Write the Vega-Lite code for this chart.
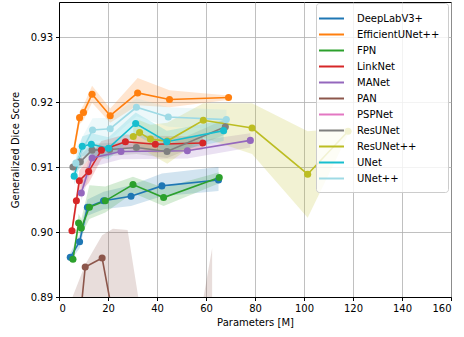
{
 "$schema": "https://vega.github.io/schema/vega-lite/v6.json",
 "width": 392, "height": 295,
 "autosize": {"type": "none"},
 "padding": {"left": 59, "top": 2, "right": 13, "bottom": 40},
 "config": {
  "font": "DejaVu Sans",
  "view": {"stroke": "black", "strokeWidth": 1},
  "axis": {"domainColor": "black", "tickColor": "black", "labelColor": "black", "titleColor": "black", "gridColor": "#b0b0b0", "gridWidth": 0.8, "labelFontSize": 10, "titleFontSize": 10, "titleFontWeight": "normal", "tickSize": 3.5, "labelPadding": 3, "domainWidth": 1}
 },
 "data": {"values": [
  {"model": "DeepLabV3+", "params": 4.6, "score": 0.8961, "lo": 0.8955, "hi": 0.8968},
  {"model": "DeepLabV3+", "params": 8.4, "score": 0.8985, "lo": 0.8975, "hi": 0.8996},
  {"model": "DeepLabV3+", "params": 11.6, "score": 0.9038, "lo": 0.9025, "hi": 0.905},
  {"model": "DeepLabV3+", "params": 18.2, "score": 0.9048, "lo": 0.9035, "hi": 0.9062},
  {"model": "DeepLabV3+", "params": 29.4, "score": 0.9055, "lo": 0.904, "hi": 0.9072},
  {"model": "DeepLabV3+", "params": 42.0, "score": 0.9071, "lo": 0.9055, "hi": 0.909},
  {"model": "DeepLabV3+", "params": 65.1, "score": 0.908, "lo": 0.9063, "hi": 0.91},
  {"model": "EfficientUNet++", "params": 6.0, "score": 0.9125, "lo": 0.9117, "hi": 0.9133},
  {"model": "EfficientUNet++", "params": 8.4, "score": 0.9176, "lo": 0.9166, "hi": 0.9186},
  {"model": "EfficientUNet++", "params": 10.0, "score": 0.9184, "lo": 0.9172, "hi": 0.9195},
  {"model": "EfficientUNet++", "params": 13.5, "score": 0.9212, "lo": 0.9199, "hi": 0.9225},
  {"model": "EfficientUNet++", "params": 20.9, "score": 0.9179, "lo": 0.9168, "hi": 0.919},
  {"model": "EfficientUNet++", "params": 32.1, "score": 0.9214, "lo": 0.9195, "hi": 0.9237},
  {"model": "EfficientUNet++", "params": 45.1, "score": 0.9204, "lo": 0.9192, "hi": 0.9218},
  {"model": "EfficientUNet++", "params": 69.2, "score": 0.9207, "lo": 0.9203, "hi": 0.921},
  {"model": "FPN", "params": 5.7, "score": 0.8958, "lo": 0.895, "hi": 0.8966},
  {"model": "FPN", "params": 8.0, "score": 0.9014, "lo": 0.9, "hi": 0.9028},
  {"model": "FPN", "params": 9.1, "score": 0.9006, "lo": 0.8995, "hi": 0.902},
  {"model": "FPN", "params": 12.4, "score": 0.9038, "lo": 0.902, "hi": 0.9072},
  {"model": "FPN", "params": 18.9, "score": 0.9048, "lo": 0.903, "hi": 0.907},
  {"model": "FPN", "params": 30.2, "score": 0.9073, "lo": 0.906, "hi": 0.9085},
  {"model": "FPN", "params": 42.7, "score": 0.9053, "lo": 0.904, "hi": 0.9068},
  {"model": "FPN", "params": 65.4, "score": 0.9084, "lo": 0.9075, "hi": 0.9092},
  {"model": "LinkNet", "params": 5.3, "score": 0.9002, "lo": 0.8995, "hi": 0.901},
  {"model": "LinkNet", "params": 7.1, "score": 0.9048, "lo": 0.9035, "hi": 0.906},
  {"model": "LinkNet", "params": 8.3, "score": 0.9079, "lo": 0.9062, "hi": 0.9095},
  {"model": "LinkNet", "params": 12.1, "score": 0.9093, "lo": 0.9075, "hi": 0.9112},
  {"model": "LinkNet", "params": 17.3, "score": 0.9126, "lo": 0.9112, "hi": 0.914},
  {"model": "LinkNet", "params": 27.1, "score": 0.9139, "lo": 0.9128, "hi": 0.915},
  {"model": "LinkNet", "params": 39.3, "score": 0.9135, "lo": 0.9122, "hi": 0.9148},
  {"model": "LinkNet", "params": 58.7, "score": 0.9137, "lo": 0.9127, "hi": 0.9147},
  {"model": "MANet", "params": 9.1, "score": 0.906, "lo": 0.9048, "hi": 0.9072},
  {"model": "MANet", "params": 13.5, "score": 0.9114, "lo": 0.91, "hi": 0.9128},
  {"model": "MANet", "params": 25.3, "score": 0.9124, "lo": 0.9112, "hi": 0.9136},
  {"model": "MANet", "params": 52.4, "score": 0.9125, "lo": 0.9113, "hi": 0.9138},
  {"model": "MANet", "params": 78.1, "score": 0.9141, "lo": 0.913, "hi": 0.9152},
  {"model": "PAN", "params": 5.0, "score": 0.873, "lo": 0.86, "hi": 0.8895},
  {"model": "PAN", "params": 10.7, "score": 0.8946, "lo": 0.884, "hi": 0.895},
  {"model": "PAN", "params": 17.6, "score": 0.896, "lo": 0.884, "hi": 0.8995},
  {"model": "PAN", "params": 22.0, "score": 0.8871, "lo": 0.87, "hi": 0.9005},
  {"model": "PAN", "params": 28.0, "score": 0.875, "lo": 0.85, "hi": 0.9003},
  {"model": "PAN", "params": 45.0, "score": 0.85, "lo": 0.84, "hi": 0.86},
  {"model": "PAN", "params": 62.5, "score": 0.87, "lo": 0.85, "hi": 0.8975},
  {"model": "PSPNet", "params": 5.5, "score": 0.87, "lo": 0.865, "hi": 0.875},
  {"model": "PSPNet", "params": 9.0, "score": 0.872, "lo": 0.867, "hi": 0.877},
  {"model": "PSPNet", "params": 13.0, "score": 0.874, "lo": 0.869, "hi": 0.879},
  {"model": "PSPNet", "params": 20.0, "score": 0.873, "lo": 0.868, "hi": 0.878},
  {"model": "PSPNet", "params": 30.0, "score": 0.875, "lo": 0.87, "hi": 0.88},
  {"model": "PSPNet", "params": 45.0, "score": 0.874, "lo": 0.869, "hi": 0.879},
  {"model": "PSPNet", "params": 65.0, "score": 0.876, "lo": 0.871, "hi": 0.881},
  {"model": "ResUNet", "params": 5.7, "score": 0.91, "lo": 0.9092, "hi": 0.9108},
  {"model": "ResUNet", "params": 8.7, "score": 0.9108, "lo": 0.9098, "hi": 0.9118},
  {"model": "ResUNet", "params": 13.5, "score": 0.9126, "lo": 0.9116, "hi": 0.9136},
  {"model": "ResUNet", "params": 20.7, "score": 0.9127, "lo": 0.9117, "hi": 0.9137},
  {"model": "ResUNet", "params": 31.6, "score": 0.913, "lo": 0.912, "hi": 0.914},
  {"model": "ResUNet", "params": 44.1, "score": 0.9124, "lo": 0.9114, "hi": 0.9134},
  {"model": "ResUNet", "params": 67.9, "score": 0.9162, "lo": 0.915, "hi": 0.9174},
  {"model": "ResUNet++", "params": 30.3, "score": 0.9147, "lo": 0.9125, "hi": 0.9168},
  {"model": "ResUNet++", "params": 32.9, "score": 0.9153, "lo": 0.9132, "hi": 0.9172},
  {"model": "ResUNet++", "params": 37.3, "score": 0.9143, "lo": 0.912, "hi": 0.9165},
  {"model": "ResUNet++", "params": 44.2, "score": 0.914, "lo": 0.9105, "hi": 0.9168},
  {"model": "ResUNet++", "params": 58.9, "score": 0.9172, "lo": 0.9145, "hi": 0.9198},
  {"model": "ResUNet++", "params": 78.8, "score": 0.916, "lo": 0.912, "hi": 0.9198},
  {"model": "ResUNet++", "params": 101.5, "score": 0.9089, "lo": 0.9022, "hi": 0.9155},
  {"model": "ResUNet++", "params": 118.0, "score": 0.9155, "lo": 0.915, "hi": 0.916},
  {"model": "UNet", "params": 6.2, "score": 0.9086, "lo": 0.9072, "hi": 0.91},
  {"model": "UNet", "params": 9.5, "score": 0.9132, "lo": 0.9117, "hi": 0.9147},
  {"model": "UNet", "params": 13.2, "score": 0.9135, "lo": 0.9118, "hi": 0.9152},
  {"model": "UNet", "params": 20.2, "score": 0.9129, "lo": 0.9112, "hi": 0.9146},
  {"model": "UNet", "params": 31.3, "score": 0.9167, "lo": 0.915, "hi": 0.9184},
  {"model": "UNet", "params": 44.0, "score": 0.9139, "lo": 0.9122, "hi": 0.9156},
  {"model": "UNet", "params": 67.2, "score": 0.9156, "lo": 0.914, "hi": 0.9172},
  {"model": "UNet++", "params": 6.9, "score": 0.9106, "lo": 0.9085, "hi": 0.9128},
  {"model": "UNet++", "params": 13.7, "score": 0.9157, "lo": 0.914, "hi": 0.9175},
  {"model": "UNet++", "params": 20.9, "score": 0.9159, "lo": 0.9142, "hi": 0.9176},
  {"model": "UNet++", "params": 31.6, "score": 0.9192, "lo": 0.9178, "hi": 0.9206},
  {"model": "UNet++", "params": 44.6, "score": 0.9177, "lo": 0.9162, "hi": 0.9192},
  {"model": "UNet++", "params": 68.3, "score": 0.9173, "lo": 0.9158, "hi": 0.9188}
 ]},
 "encoding": {
  "x": {"field": "params", "type": "quantitative", "scale": {"domain": [0, 160], "nice": false, "zero": false}, "axis": {"title": "Parameters [M]", "values": [0, 20, 40, 60, 80, 100, 120, 140, 160], "titlePadding": 4}},
  "color": {"field": "model", "type": "nominal", "sort": null,
   "scale": {"domain": ["DeepLabV3+", "EfficientUNet++", "FPN", "LinkNet", "MANet", "PAN", "PSPNet", "ResUNet", "ResUNet++", "UNet", "UNet++"],
             "range": ["#1f77b4", "#ff7f0e", "#2ca02c", "#d62728", "#9467bd", "#8c564b", "#e377c2", "#7f7f7f", "#bcbd22", "#17becf", "#9edae5"]},
   "legend": {"title": null, "orient": "none", "legendX": 257, "legendY": 1, "symbolType": "M-2,0H2", "symbolSize": 156, "symbolStrokeWidth": 2, "symbolOpacity": 1, "labelFontSize": 10, "labelColor": "black", "rowPadding": 3, "padding": 8, "fillColor": "rgba(255,255,255,0.8)", "strokeColor": "#cccccc", "cornerRadius": 3, "labelOffset": 18}}
 },
 "layer": [
  {"mark": {"type": "area", "opacity": 0.2, "clip": true, "orient": "vertical"},
   "encoding": {"y": {"field": "lo", "type": "quantitative"}, "y2": {"field": "hi"}}},
  {"mark": {"type": "line", "strokeWidth": 1.6, "clip": true},
   "encoding": {"y": {"field": "score", "type": "quantitative"}}},
  {"mark": {"type": "point", "filled": true, "opacity": 1, "size": 50, "clip": true},
   "encoding": {"y": {"field": "score", "type": "quantitative", "scale": {"domain": [0.89, 0.9354], "nice": false, "zero": false},
     "axis": {"title": "Generalized Dice Score", "values": [0.89, 0.9, 0.91, 0.92, 0.93], "format": ".2f", "titlePadding": 10}}}}
 ]
}
